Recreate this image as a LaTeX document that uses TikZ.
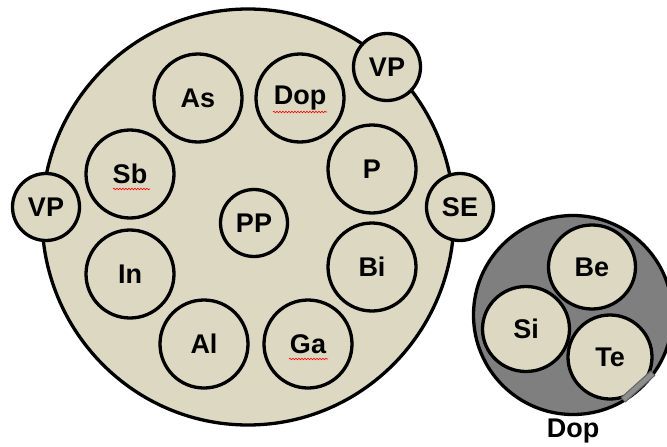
\documentclass[tikz,border=0pt]{standalone}
\usepackage{fontspec}
\setmainfont{Liberation Sans}
\usetikzlibrary{shapes.geometric,decorations.pathmorphing}
\definecolor{sand}{HTML}{DCD8C2}
\definecolor{slate}{HTML}{7F7F7F}
\definecolor{slatelight}{HTML}{8E8E8E}
\tikzset{
  outline/.style={draw=black, line width=3.3pt},
  labelfont/.style={font=\fontsize{27}{29}\selectfont\bfseries},
  bubble/.style={outline, ellipse, fill=sand, inner sep=0pt,
    minimum width=88pt, minimum height=88pt, labelfont},
  smallbubble/.style={bubble, minimum width=67pt, minimum height=67pt},
  squiggle/.style={draw=red, line width=0.6pt,
    decorate, decoration={snake, segment length=3pt, amplitude=0.8pt}},
}
\begin{document}
\begin{tikzpicture}[x=1pt, y=-1pt]
  \useasboundingbox (0,0) rectangle (667,447);

  % large population
  \node[outline, ellipse, fill=sand, minimum width=412pt, minimum height=416pt] (pop) at (248,217) {};

  % members inside
  \node[bubble] (as)  at (198,98)  {As};
  \node[bubble] (dop) at (300,98)  {Dop};
  \node[bubble] (sb)  at (130,174) {Sb};
  \node[bubble] (p)   at (372,169) {P};
  \node[smallbubble] (pp) at (254,223) {PP};
  \node[bubble] (in)  at (130,274) {In};
  \node[bubble] (bi)  at (372,267) {Bi};
  \node[bubble] (al)  at (204,344) {Al};
  \node[bubble] (ga)  at (308,344) {Ga};

  % members on the rim
  \node[smallbubble] (vptop)  at (387,67)  {VP};
  \node[smallbubble] (vpleft) at (46,207)  {VP};
  \node[smallbubble] (se)     at (460,207) {SE};

  % spell-check underlines
  \draw[squiggle] ([xshift=-27pt,yshift=-14pt]dop.center) -- ([xshift=27pt,yshift=-14pt]dop.center);
  \draw[squiggle] ([xshift=-17pt,yshift=-15pt]sb.center) -- ([xshift=20pt,yshift=-15pt]sb.center);
  \draw[squiggle] ([xshift=-19pt,yshift=-15pt]ga.center) -- ([xshift=20pt,yshift=-15pt]ga.center);

  % dopant group
  \node[outline, ellipse, fill=slate, minimum width=199pt, minimum height=199pt] (dopgrp) at (573,315) {};
  \node[bubble, minimum width=87pt, minimum height=84pt] (be) at (592,267) {Be};
  \node[bubble, minimum width=87pt, minimum height=85pt] (si) at (526,329) {Si};
  \node[bubble, minimum width=84pt, minimum height=84pt] (te) at (610,357) {Te};
  \draw[line width=7pt, black!60] (623,400) -- (653,373);
  \draw[line width=4.5pt, slatelight] (623.5,399.5) -- (652.5,373.5);
  \node[labelfont, anchor=base] (doplabel) at (573,437) {Dop};
\end{tikzpicture}
\end{document}
